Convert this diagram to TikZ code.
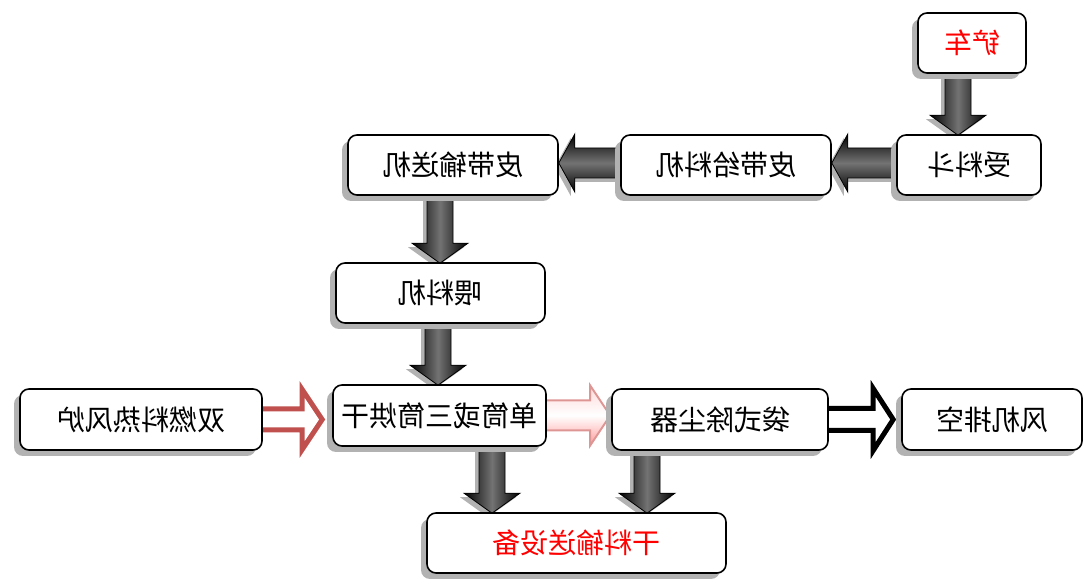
\documentclass[tikz,border=0pt]{standalone}
\usepackage{fontspec}
\usepackage{graphicx}
\newfontfamily\cjk{Noto Sans CJK SC}
\usetikzlibrary{calc,shadows}
\definecolor{redA}{RGB}{192,80,77}
\definecolor{pinkA}{RGB}{222,150,148}
\newcommand\mirtext[1]{\scalebox{-1}[1]{#1}}
\pgfdeclarelayer{back}
\pgfsetlayers{back,main}
% down arrow: #1 x centre, #2 from node, #3 to node
\newcommand\dnarrow[3]{%
  \path[darrV] let \p1=(#2.south), \p2=(#3.north) in
    (#1pt-13pt,\y1+8pt) -- (#1pt+13pt,\y1+8pt) -- (#1pt+13pt,\y2+19pt) -- (#1pt+28pt,\y2+19pt)
    -- (#1pt,\y2-1pt) -- (#1pt-28pt,\y2+19pt) -- (#1pt-13pt,\y2+19pt) -- cycle;}
% left arrow: #1 y centre, #2 from node (right), #3 to node (left)
\newcommand\lfarrow[3]{%
  \path[darrH] let \p1=(#2.west), \p2=(#3.east) in
    (\x1+8pt,#1pt+15pt) -- (\x1+8pt,#1pt-15pt) -- (\x2+16pt,#1pt-15pt) -- (\x2+16pt,#1pt-29pt)
    -- (\x2,#1pt) -- (\x2+16pt,#1pt+29pt) -- (\x2+16pt,#1pt+15pt) -- cycle;}
% right hollow arrow: #1 style, #2 from, #3 to, #4 gap, #5 shaft half, #6 head half
\newcommand\rtarrow[6]{%
  \path[#1] let \p1=(#2.east), \p2=(#3.west) in
    (\x1-10pt,\y1+#5pt) -- (\x2-#4pt-20pt,\y1+#5pt) -- (\x2-#4pt-20pt,\y1+#6pt) -- (\x2-#4pt,\y1)
    -- (\x2-#4pt-20pt,\y1-#6pt) -- (\x2-#4pt-20pt,\y1-#5pt) -- (\x1-10pt,\y1-#5pt) -- cycle;}
\begin{document}
\begin{tikzpicture}[x=1pt,y=1pt,
  box/.style={draw=black,line width=1.6pt,rounded corners=9pt,fill=white,
    minimum height=60pt,inner sep=0pt,font=\cjk\fontsize{28}{33}\selectfont,
    drop shadow={shadow xshift=-6pt,shadow yshift=-6pt,fill=gray!60,opacity=1}},
  darrV/.style={draw=black,line width=0.8pt,left color=black,right color=black,middle color=black!55,
    drop shadow={shadow xshift=-4pt,shadow yshift=-4pt,fill=gray!60,opacity=1}},
  darrH/.style={draw=black,line width=0.8pt,top color=black,bottom color=black,middle color=black!55,
    drop shadow={shadow xshift=-4pt,shadow yshift=-4pt,fill=gray!60,opacity=1}},
  redarr/.style={draw=redA,line width=5pt,fill=white},
  pinkarr/.style={draw=pinkA,line width=2pt,top color=red!15,bottom color=red!40,middle color=white},
  blackarr/.style={draw=black,line width=5pt,fill=white}]
\useasboundingbox (0,0) rectangle (1084,586);

\node[box,minimum width=108pt,text=red] (chanche) at (972,543) {\mirtext{铲车}};
\node[box,minimum width=144pt] (shouliao) at (969,421) {\mirtext{受料斗}};
\node[box,minimum width=210pt] (geiliao) at (726,421) {\mirtext{皮带给料机}};
\node[box,minimum width=210pt] (shusong) at (453,421) {\mirtext{皮带输送机}};
\node[box,minimum width=209pt] (weiliao) at (440.5,293) {\mirtext{喂料机}};
\node[box,minimum width=242pt,minimum height=61pt] (reanlu) at (141,166.5) {\mirtext{双燃料热风炉}};
\node[box,minimum width=213pt,minimum height=61pt] (hongan) at (439.5,170.5) {\mirtext{单筒或三筒烘干}};
\node[box,minimum width=216pt,minimum height=61pt] (daishi) at (720,166.5) {\mirtext{袋式除尘器}};
\node[box,minimum width=180pt,minimum height=61pt] (fengji) at (992,166.5) {\mirtext{风机排空}};
\node[box,minimum width=299pt,text=red] (ganliao) at (576.5,43) {\mirtext{干料输送设备}};

\begin{pgfonlayer}{back}
\fill[white] (0,0) rectangle (1084,586);
\dnarrow{958}{chanche}{shouliao}
\lfarrow{423}{shouliao}{geiliao}
\lfarrow{423}{geiliao}{shusong}
\dnarrow{440}{shusong}{weiliao}
\dnarrow{438}{weiliao}{hongan}
\rtarrow{redarr}{reanlu}{hongan}{10}{10.5}{30}
\rtarrow{pinkarr}{hongan}{daishi}{1}{15}{30}
\rtarrow{blackarr}{daishi}{fengji}{8}{11}{31}
\dnarrow{492}{hongan}{ganliao}
\dnarrow{647}{daishi}{ganliao}
\end{pgfonlayer}
\end{tikzpicture}
\end{document}
